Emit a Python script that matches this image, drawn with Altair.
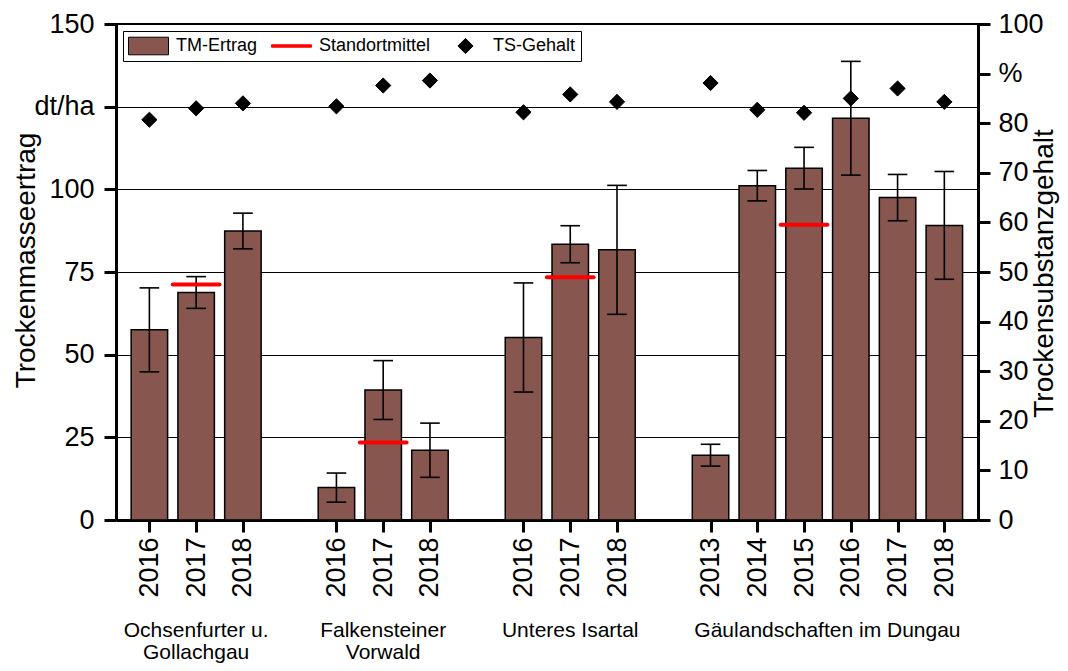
import altair as alt
import pandas as pd

# ---------------- data ----------------
groups = ["Ochsenfurter u.\nGollachgau", "Falkensteiner\nVorwald", "Unteres Isartal", "Gäulandschaften im Dungau"]
years = [
    ["2016", "2017", "2018"],
    ["2016", "2017", "2018"],
    ["2016", "2017", "2018"],
    ["2013", "2014", "2015", "2016", "2017", "2018"],
]
tm_ertrag = [
    [57.5, 68.8, 87.4],
    [9.8, 39.3, 21.1],
    [55.2, 83.4, 81.7],
    [19.6, 101.1, 106.4, 121.5, 97.5, 89.1],
]
tm_fehler = [
    [12.7, 4.8, 5.4],
    [4.4, 8.9, 8.2],
    [16.5, 5.6, 19.5],
    [3.3, 4.6, 6.3, 17.2, 7.0, 16.3],
]
ts_gehalt = [
    [80.7, 83.0, 84.0],
    [83.4, 87.6, 88.6],
    [82.2, 85.8, 84.3],
    [88.1, 82.7, 82.1, 85.0, 87.0, 84.3],
]
standort_jahr = ["2017", "2017", "2017", "2015"]
standort_mittel = [71.2, 23.4, 73.4, 89.3]
series_names = ["TM-Ertrag", "Standortmittel", "TS-Gehalt"]

# ---------------- tables ----------------
rows, std_rows, group_rows, tick_labels, tick_pos = [], [], [], [], []
pos = 0
for gi, g in enumerate(groups):
    start = pos
    for yi, yr in enumerate(years[gi]):
        rows.append(dict(group=g, year=yr, pos=pos, tm=tm_ertrag[gi][yi],
                         err=tm_fehler[gi][yi], ts=ts_gehalt[gi][yi], series="TS-Gehalt"))
        if yr == standort_jahr[gi]:
            std_rows.append(dict(pos=pos, value=standort_mittel[gi]))
        tick_labels.append(yr)
        tick_pos.append(pos)
        pos += 1
    group_rows.append(dict(label=g, center=(start + pos - 1) / 2))
    if gi < len(groups) - 1:
        tick_labels.append("")
        pos += 1
last = pos - 1

df = pd.DataFrame(rows)
df_std = pd.DataFrame(std_rows)
df_grp = pd.DataFrame(group_rows)

BROWN = "#87574F"
FONT = "Liberation Sans"

xscale = alt.Scale(domain=[-0.607, last + 0.613], nice=False, zero=False)
yscale = alt.Scale(domain=[0, 150], nice=False, zero=False)
y2scale = alt.Scale(domain=[0, 100], nice=False, zero=False)

label_array = "[" + ",".join("'%s'" % t for t in tick_labels) + "]"
xaxis = alt.Axis(values=tick_pos, labelExpr=label_array + "[datum.value]", title=None,
                 labelAngle=270, labelAlign="right", labelBaseline="middle",
                 labelFontSize=27, labelPadding=5, labelOverlap=False, labelFlush=False,
                 tickSize=12, tickWidth=3, tickColor="black", domainWidth=3, domainColor="black",
                 grid=False, labelColor="black")
yaxis_left = alt.Axis(values=[0, 25, 50, 75, 100, 125, 150],
                      labelExpr="datum.value == 125 ? 'dt/ha' : datum.label",
                      labelFontSize=27, labelPadding=10, labelFlush=False, labelColor="black",
                      tickSize=12, tickWidth=3, tickColor="black", domainWidth=3, domainColor="black",
                      grid=True, gridColor="black", gridWidth=1, gridOpacity=1,
                      title="Trockenmasseertrag", titleFontSize=28, titleFontWeight="normal",
                      titleColor="black", titleAngle=270, titleAlign="center", titleBaseline="middle",
                      titleX=-90, titleY=236)
yaxis_right = alt.Axis(orient="right", values=list(range(0, 101, 10)),
                       labelExpr="datum.value == 90 ? '%' : datum.label",
                       labelFontSize=27, labelPadding=8, labelFlush=False, labelColor="black",
                       tickSize=12, tickWidth=3, tickColor="black", domainWidth=3, domainColor="black",
                       grid=False,
                       title="Trockensubstanzgehalt", titleFontSize=28, titleFontWeight="normal",
                       titleColor="black", titleAngle=270, titleAlign="center", titleBaseline="middle",
                       titleX=66, titleY=249)

rect_path = "M-1,-0.44H1V0.44H-1Z"
line_path = "M-1,-0.06H1V0.06H-1Z"
diam_path = "M-0.38,0L0,-0.38L0.38,0L0,0.38Z"

legend = alt.Legend(title=None, orient="none", legendX=7, legendY=7, direction="horizontal",
                    strokeColor="black", padding=5, labelFontSize=18, labelFont=FONT,
                    labelColor="black", symbolSize=1600, symbolStrokeWidth=1, labelOffset=7,
                    columnPadding=14, clipHeight=20, labelLimit=300, symbolOpacity=1)

bars = alt.Chart(df).transform_calculate(
    x0="datum.pos - 0.39", x1="datum.pos + 0.39"
).mark_bar(fill=BROWN, stroke="black", strokeWidth=1.5, opacity=1, orient="vertical").encode(
    x=alt.X("x0:Q", scale=xscale, axis=xaxis),
    x2="x1:Q",
    y=alt.Y("tm:Q", scale=yscale, axis=yaxis_left),
    y2=alt.datum(0),
)

err_base = alt.Chart(df).transform_calculate(
    lo="datum.tm - datum.err", hi="datum.tm + datum.err",
    c0="datum.pos - 0.21", c1="datum.pos + 0.21"
)
err_line = err_base.mark_rule(color="black", strokeWidth=1.6).encode(
    x=alt.X("pos:Q", scale=xscale, axis=xaxis),
    y=alt.Y("lo:Q", scale=yscale, axis=yaxis_left),
    y2="hi:Q",
)
cap_hi = err_base.mark_rule(color="black", strokeWidth=1.6).encode(
    x=alt.X("c0:Q", scale=xscale, axis=xaxis), x2="c1:Q",
    y=alt.Y("hi:Q", scale=yscale, axis=yaxis_left),
)
cap_lo = err_base.mark_rule(color="black", strokeWidth=1.6).encode(
    x=alt.X("c0:Q", scale=xscale, axis=xaxis), x2="c1:Q",
    y=alt.Y("lo:Q", scale=yscale, axis=yaxis_left),
)

std = alt.Chart(df_std).transform_calculate(
    s0="datum.pos - 0.5", s1="datum.pos + 0.5"
).mark_rule(color="#FF0000", strokeWidth=4, strokeCap="round").encode(
    x=alt.X("s0:Q", scale=xscale, axis=xaxis), x2="s1:Q",
    y=alt.Y("value:Q", scale=yscale, axis=yaxis_left),
)

grp_text = alt.Chart(df_grp).mark_text(
    lineBreak="\n", fontSize=21, font=FONT, color="black", align="center",
    baseline="alphabetic", lineHeight=21.5
).encode(
    x=alt.X("center:Q", scale=xscale, axis=xaxis),
    y=alt.value(613),
    text="label:N",
)

left = alt.layer(bars, err_line, cap_hi, cap_lo, std, grp_text)

points = alt.Chart(df).mark_point(filled=True, size=1600, strokeWidth=1, opacity=1).encode(
    x=alt.X("pos:Q", scale=xscale, axis=xaxis),
    y=alt.Y("ts:Q", scale=y2scale, axis=yaxis_right),
    shape=alt.Shape("series:N", scale=alt.Scale(domain=series_names,
                                                range=[rect_path, line_path, diam_path]),
                    legend=legend),
    fill=alt.Fill("series:N", scale=alt.Scale(domain=series_names,
                                              range=[BROWN, "#FF0000", "black"]),
                  legend=legend),
    stroke=alt.Stroke("series:N", scale=alt.Scale(domain=series_names,
                                                  range=["black", "#FF0000", "black"]),
                      legend=legend),
)

chart = alt.layer(left, points).resolve_scale(y="independent").properties(
    width=862, height=496,
    autosize=alt.AutoSizeParams(type="none"),
    padding={"left": 108, "top": 16, "right": 82, "bottom": 143},
).configure(font=FONT).configure_view(stroke="black", strokeWidth=2)

chart.save("out.html", embed_options={"renderer": "svg", "actions": False})
